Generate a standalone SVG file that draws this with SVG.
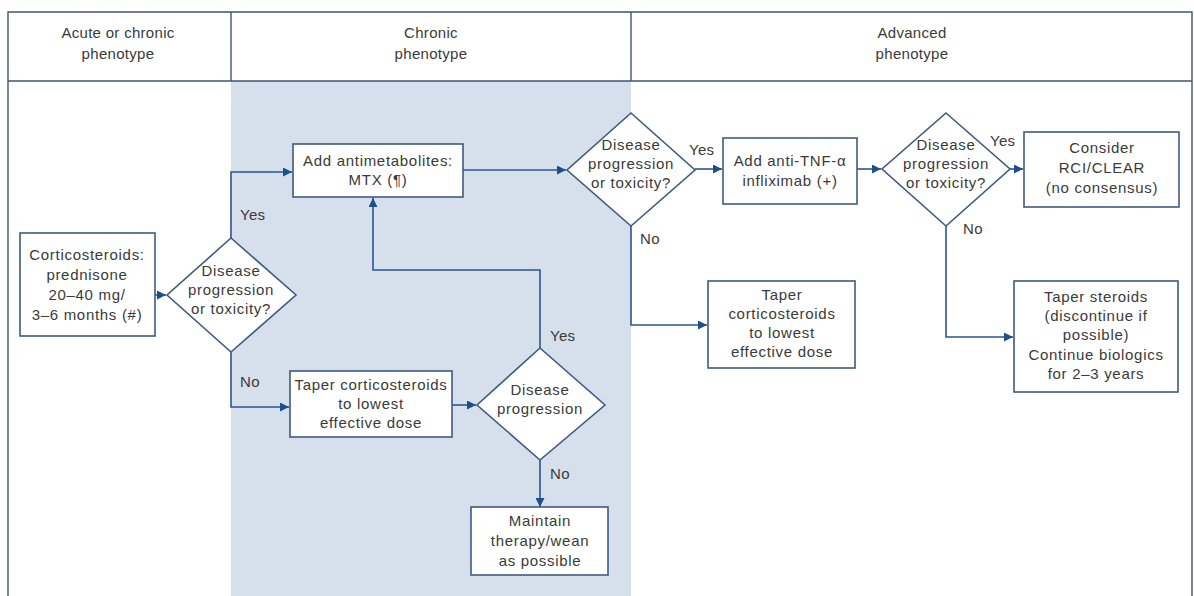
<svg xmlns="http://www.w3.org/2000/svg" width="1194" height="596" viewBox="0 0 1194 596">
<defs>
<marker id="ah" viewBox="0 0 10 10" refX="10" refY="5" markerWidth="9" markerHeight="9" markerUnits="userSpaceOnUse" orient="auto">
<path d="M0,0 L10,5 L0,10 z" fill="#1d4f8c"/>
</marker>
<style>
text{font-family:"Liberation Sans",Arial,sans-serif;font-size:15px;letter-spacing:0.7px;fill:#3a3a3a;text-anchor:middle}
.hd{font-size:15px;letter-spacing:0.3px}
.lbl{text-anchor:start;letter-spacing:0.3px}
.box{fill:#ffffff;stroke:#3f5a7e;stroke-width:1.6}
.dia{fill:#ffffff;stroke:#3f5a7e;stroke-width:1.6}
.frame{fill:none;stroke:#3f5572;stroke-width:1.4}
.con{fill:none;stroke:#2a5690;stroke-width:1.6;marker-end:url(#ah)}
</style>
</defs>
<rect width="1194" height="596" fill="#ffffff"/>
<rect x="231" y="81" width="400" height="515" fill="#d6dfec"/>
<g id="frame">
<path class="frame" d="M8,596 V12 H1192 V596"/>
<line class="frame" x1="8" y1="81" x2="1192" y2="81"/>
<line class="frame" x1="231" y1="12" x2="231" y2="81"/>
<line class="frame" x1="631" y1="12" x2="631" y2="81"/>
<text class="hd" x="118" y="38">Acute or chronic</text>
<text class="hd" x="118" y="59">phenotype</text>
<text class="hd" x="431" y="38">Chronic</text>
<text class="hd" x="431" y="59">phenotype</text>
<text class="hd" x="912" y="38">Advanced</text>
<text class="hd" x="912" y="59">phenotype</text>
</g>
<g id="connectors">
<path class="con" d="M155,295 H166"/>
<path class="con" d="M231,238 V172 H292"/>
<path class="con" d="M231,352 V407 H289"/>
<path class="con" d="M463,170 H566"/>
<path class="con" d="M695,169 H722"/>
<path class="con" d="M857,169 H881"/>
<path class="con" d="M1010,169 H1023"/>
<path class="con" d="M631,226 V325 H707"/>
<path class="con" d="M946,226 V337 H1013"/>
<path class="con" d="M452,405 H476"/>
<path class="con" d="M540,348 V270 H373 V198"/>
<path class="con" d="M540,460 V507"/>
<text class="lbl" x="240" y="220">Yes</text>
<text class="lbl" x="240" y="387">No</text>
<text class="lbl" x="689" y="155">Yes</text>
<text class="lbl" x="640" y="244">No</text>
<text class="lbl" x="990" y="146">Yes</text>
<text class="lbl" x="963" y="234">No</text>
<text class="lbl" x="550" y="341">Yes</text>
<text class="lbl" x="550" y="479">No</text>
</g>
<g id="n-cortico">
<rect class="box" x="20" y="233" width="135" height="103"/>
<text x="87" y="260">Corticosteroids:</text>
<text x="87" y="280">prednisone</text>
<text x="87" y="300">20–40 mg/</text>
<text x="87" y="320">3–6 months (#)</text>
</g>
<g id="d-1">
<polygon class="dia" points="231,238 296,295 231,352 167,295"/>
<text x="231" y="276">Disease</text>
<text x="231" y="295">progression</text>
<text x="231" y="314">or toxicity?</text>
</g>
<g id="n-mtx">
<rect class="box" x="293" y="144" width="170" height="53"/>
<text x="378" y="166">Add antimetabolites:</text>
<text x="378" y="185">MTX (¶)</text>
</g>
<g id="d-2">
<polygon class="dia" points="631,113 695,170 631,226 567,170"/>
<text x="631" y="150">Disease</text>
<text x="631" y="169">progression</text>
<text x="631" y="188">or toxicity?</text>
</g>
<g id="n-tnf">
<rect class="box" x="723" y="138" width="134" height="66"/>
<text x="790" y="166">Add anti-TNF-α</text>
<text x="790" y="186">infliximab (+)</text>
</g>
<g id="d-3">
<polygon class="dia" points="946,113 1010,169 946,226 882,169"/>
<text x="946" y="150">Disease</text>
<text x="946" y="169">progression</text>
<text x="946" y="188">or toxicity?</text>
</g>
<g id="n-rci">
<rect class="box" x="1024" y="132" width="155" height="75"/>
<text x="1102" y="153">Consider</text>
<text x="1102" y="173">RCI/CLEAR</text>
<text x="1102" y="193">(no consensus)</text>
</g>
<g id="n-taper-right">
<rect class="box" x="708" y="281" width="147" height="87"/>
<text x="782" y="300">Taper</text>
<text x="782" y="319">corticosteroids</text>
<text x="782" y="338">to lowest</text>
<text x="782" y="357">effective dose</text>
</g>
<g id="n-taper-steroids">
<rect class="box" x="1014" y="281" width="164" height="111"/>
<text x="1096" y="302">Taper steroids</text>
<text x="1096" y="321">(discontinue if</text>
<text x="1096" y="340">possible)</text>
<text x="1096" y="360">Continue biologics</text>
<text x="1096" y="379">for 2–3 years</text>
</g>
<g id="n-taper-left">
<rect class="box" x="290" y="371" width="162" height="66"/>
<text x="371" y="390">Taper corticosteroids</text>
<text x="371" y="409">to lowest</text>
<text x="371" y="428">effective dose</text>
</g>
<g id="d-4">
<polygon class="dia" points="540,348 605,405 540,460 477,405"/>
<text x="540" y="395">Disease</text>
<text x="540" y="414">progression</text>
</g>
<g id="n-maintain">
<rect class="box" x="471" y="507" width="137" height="68"/>
<text x="540" y="526">Maintain</text>
<text x="540" y="546">therapy/wean</text>
<text x="540" y="566">as possible</text>
</g>
</svg>
